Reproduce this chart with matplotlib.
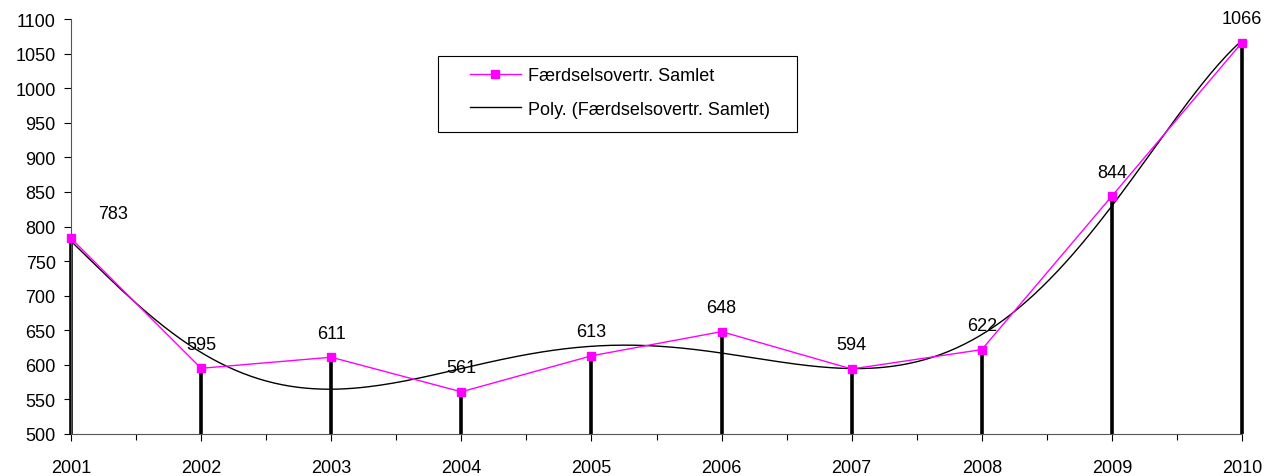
import numpy as np
import matplotlib.pyplot as plt
from matplotlib.patches import Rectangle
from matplotlib.ticker import MultipleLocator

plt.rcParams['font.family'] = ['Liberation Sans', 'DejaVu Sans']

years = [2001, 2002, 2003, 2004, 2005, 2006, 2007, 2008, 2009, 2010]
values = [783, 595, 611, 561, 613, 648, 594, 622, 844, 1066]
series_name = 'Færdselsovertr. Samlet'

x = np.array(years)
y = np.array(values)

# polynomial trend line like Excel's "Poly." trendline
coef = np.polyfit(x - 2000, y, 6)
xs = np.linspace(2001, 2010, 300)
ys = np.polyval(coef, xs - 2000)

W, H = 1266, 477
fig = plt.figure(figsize=(W / 100, H / 100), dpi=100)
ax = fig.add_axes([71 / W, 1 - 435 / H, (1242 - 71) / W, (435 - 20) / H])

ax.vlines(x, 500, y, colors='black', lw=2.6, zorder=1, clip_on=False)
ax.plot(x, y, color='#ff00ff', lw=1, marker='s', ms=6, mec='#ff00ff',
        mfc='#ff00ff', label=series_name, zorder=3, clip_on=False)
ax.plot(xs, ys, color='black', lw=1, label=f'Poly. ({series_name})', zorder=2,
        clip_on=False)

for i, (xi, yi) in enumerate(zip(x, y)):
    off = (42, 25) if i == 0 else (0, 24)
    ax.annotate(str(yi), (xi, yi), xytext=off, textcoords='offset pixels',
                ha='center', va='center', fontsize=13)

ax.set_xlim(2001, 2010)
ax.set_ylim(500, 1100)
ax.yaxis.set_major_locator(MultipleLocator(50))
ax.xaxis.set_major_locator(MultipleLocator(1))
ax.xaxis.set_minor_locator(MultipleLocator(0.5))
ax.tick_params(axis='both', direction='out', length=5, width=0.8, labelsize=13)
ax.tick_params(axis='x', which='minor', length=4, width=0.8)
ax.tick_params(axis='x', pad=13)
ax.tick_params(axis='y', pad=6)
for s in ['top', 'right']:
    ax.spines[s].set_visible(False)
ax.spines['left'].set_color('#555555')
ax.spines['bottom'].set_color('#555555')

leg = fig.legend(*ax.get_legend_handles_labels(), loc='center left',
                 bbox_to_anchor=(470 / W, 1 - 93.5 / H), bbox_transform=fig.transFigure,
                 fontsize=13, frameon=False, handlelength=2.8, handletextpad=0.4,
                 borderpad=0, borderaxespad=0, labelspacing=0.9)
fig.patches.append(Rectangle((438 / W, 1 - 133 / H), (797 - 438) / W, (133 - 57) / H,
                             transform=fig.transFigure, fill=False, ec='black', lw=0.8))

fig.savefig('out.png', dpi=100)
